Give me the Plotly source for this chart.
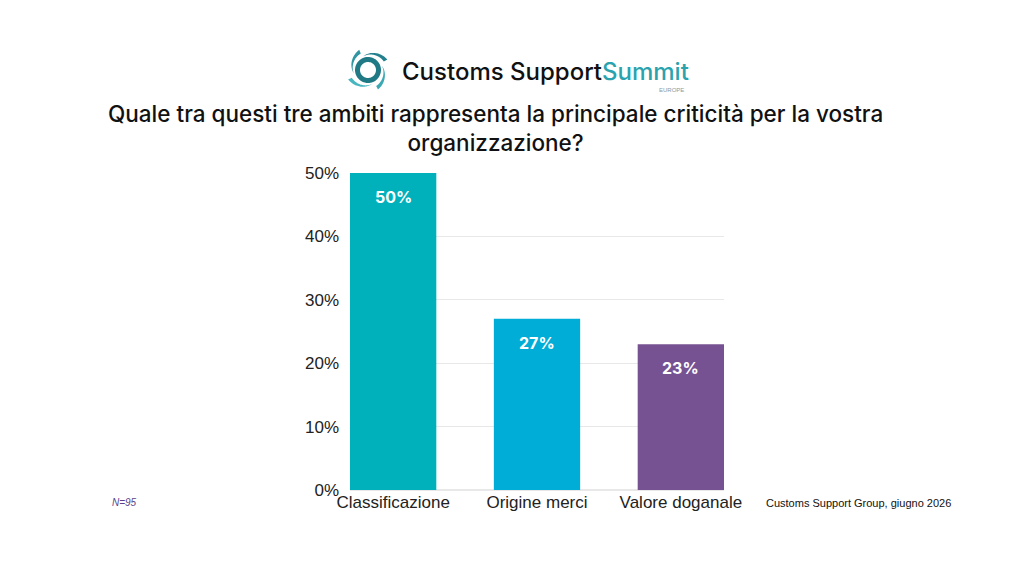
import numpy as np
import plotly.graph_objects as go

# Survey results
categories = ["Classificazione", "Origine merci", "Valore doganale"]
values = [50, 27, 23]
bar_colors = ["#00B1BC", "#00ADD6", "#765292"]
y_ticks = [0, 10, 20, 30, 40, 50]
y_tick_labels = ["0%", "10%", "20%", "30%", "40%", "50%"]

title_text = ("Quale tra questi tre ambiti rappresenta la principale criticità per la vostra"
              "<br>organizzazione?")
sample_note = "N=95"
source_note = "Customs Support Group, giugno 2026"

W, H = 1024, 576
L, R, T, B = 350, 300, 173, 86


# pixel -> paper helpers (for the logo and notes)
def px(x):
    return (x - L) / (W - L - R)


def py(y):
    return (H - B - y) / (H - T - B)


fig = go.Figure()

fig.add_trace(go.Bar(
    x=categories,
    y=values,
    marker=dict(color=bar_colors, line=dict(width=0)),
    width=0.6,
    hoverinfo="skip",
))

# value labels inside the top of each bar
for cat, val in zip(categories, values):
    fig.add_annotation(
        x=cat, y=val, text=f"<b>{val}%</b>", showarrow=False,
        yanchor="top", yshift=-12,
        font=dict(family="Inter, Liberation Sans", size=16, color="white"),
    )

# logo: swirl icon drawn as paths
cx, cy = 368, 70
shapes = []
ring = np.linspace(0, 2 * np.pi, 60)
r_out, r_in = 13, 8
pts_o = [(cx + r_out * np.cos(a), cy + r_out * np.sin(a)) for a in ring]
pts_i = [(cx + r_in * np.cos(a), cy + r_in * np.sin(a)) for a in ring[::-1]]
path = "M " + " L ".join(f"{px(x):.4f},{py(y):.4f}" for x, y in pts_o) + " Z "
path += "M " + " L ".join(f"{px(x):.4f},{py(y):.4f}" for x, y in pts_i) + " Z"
shapes.append(dict(type="path", xref="paper", yref="paper", path=path,
                   fillcolor="#1F7A86", line=dict(width=0)))

blade_colors = ["#23808C", "#3BA9B4", "#49B7C0", "#2F96A2"]
for k, start in enumerate([-1.9, -0.3, 1.3, 2.9]):
    s = np.linspace(0, 1, 30)
    ang = start + 1.4 * s
    outer = list(zip(cx + (14.5 + 7.5 * s) * np.cos(ang), cy + (14.5 + 7.5 * s) * np.sin(ang)))
    inner = list(zip(cx + (14.5 + 3.5 * s) * np.cos(ang), cy + (14.5 + 3.5 * s) * np.sin(ang)))[::-1]
    pts = outer + inner
    p = "M " + " L ".join(f"{px(x):.4f},{py(y):.4f}" for x, y in pts) + " Z"
    shapes.append(dict(type="path", xref="paper", yref="paper", path=p,
                       fillcolor=blade_colors[k], line=dict(width=0)))

fig.add_annotation(
    x=px(400), y=py(71), xref="paper", yref="paper", xanchor="left", yanchor="middle",
    text="Customs Support<span style='color:#2AA3AE'>Summit</span>",
    showarrow=False,
    font=dict(family="Inter, Liberation Sans", size=24, color="#111111", weight=500),
)
fig.add_annotation(
    x=px(686), y=py(90), xref="paper", yref="paper", xanchor="right", yanchor="middle",
    text="EUROPE", showarrow=False,
    font=dict(family="Liberation Sans", size=6, color="#8A9AA0"),
)

# title
fig.add_annotation(
    x=px(495), y=py(128), xref="paper", yref="paper", xanchor="center", yanchor="middle",
    text=title_text, showarrow=False, align="center",
    font=dict(family="Inter, Liberation Sans", size=22.5, color="#111111", weight=500),
)

# notes
fig.add_annotation(
    x=px(110), y=py(502), xref="paper", yref="paper", xanchor="left", yanchor="middle",
    text=f"<i>{sample_note}</i>", showarrow=False,
    font=dict(family="Liberation Sans", size=10, color="#5B3F8C"),
)
fig.add_annotation(
    x=px(764), y=py(503), xref="paper", yref="paper", xanchor="left", yanchor="middle",
    text=source_note, showarrow=False,
    font=dict(family="Liberation Sans", size=11, color="#111111"),
)

fig.update_layout(
    width=W, height=H,
    margin=dict(l=L, r=R, t=T, b=B),
    paper_bgcolor="white", plot_bgcolor="white",
    showlegend=False,
    shapes=shapes,
    xaxis=dict(range=[-0.3, 2.3], showgrid=False, showline=False, ticks="",
               tickfont=dict(family="Liberation Sans", size=17, color="#222222")),
    yaxis=dict(range=[0, 50], tickvals=y_ticks, ticktext=y_tick_labels,
               showgrid=True, gridcolor="#E8E8E8", gridwidth=1,
               zeroline=True, zerolinecolor="#E8E8E8", showline=False,
               tickfont=dict(family="Liberation Sans", size=17, color="#222222"),
               ticklabelstandoff=10),
)

fig.write_html("out.html", config={"displayModeBar": False},
               post_script="document.body.style.margin='0';")
